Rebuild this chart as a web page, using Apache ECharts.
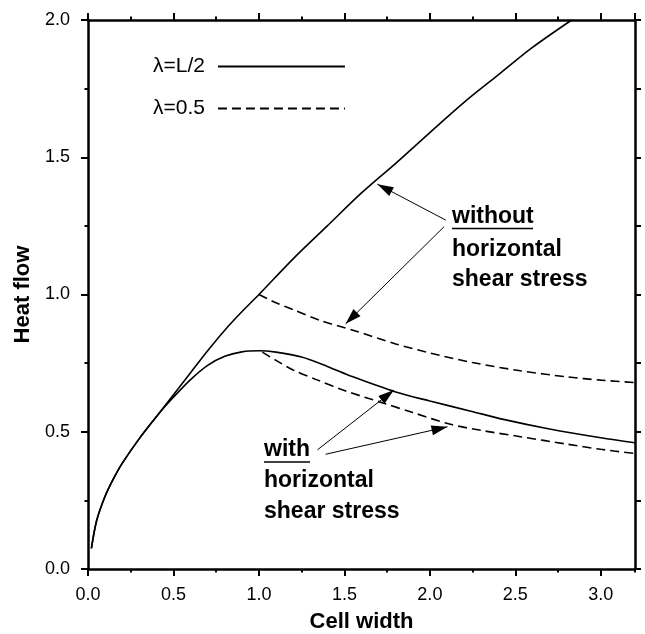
<!DOCTYPE html>
<html>
<head>
<meta charset="utf-8">
<script src="https://cdn.jsdelivr.net/npm/echarts@6/dist/echarts.min.js"></script>
<style>
html,body{margin:0;padding:0;background:#fff;}
#c{width:645px;height:634px;}
</style>
</head>
<body>
<div id="c"></div>
<script>
// ---- data ----
const xRange = [0, 3.2];
const yRange = [0, 2.0];
const seriesNames = ['λ=L/2', 'λ=0.5'];

// λ=L/2, without horizontal shear stress
const withoutL2 = [
  [0.02,0.075],[0.05,0.175],[0.1,0.265],[0.15,0.33],[0.2,0.385],[0.3,0.475],[0.4,0.555],
  [0.5,0.635],[0.6,0.715],[0.7,0.795],[0.8,0.87],[0.9,0.937],[1.0,1.0],[1.2,1.13],
  [1.4,1.25],[1.6,1.37],[1.8,1.478],[2.0,1.59],[2.2,1.70],[2.4,1.80],[2.6,1.90],[2.83,2.0]
];
// λ=L/2, with horizontal shear stress
const withL2 = [
  [0.02,0.075],[0.05,0.175],[0.1,0.265],[0.15,0.33],[0.2,0.385],[0.3,0.475],[0.4,0.555],
  [0.45,0.592],[0.5,0.626],[0.6,0.69],[0.7,0.742],[0.8,0.775],[0.9,0.791],[1.0,0.795],
  [1.1,0.79],[1.25,0.772],[1.4,0.738],[1.55,0.70],[1.8,0.645],[2.0,0.612],[2.24,0.575],
  [2.43,0.545],[2.7,0.51],[3.0,0.478],[3.2,0.46]
];
// λ=0.5, without horizontal shear stress
const without05 = [
  [1.0,1.0],[1.1,0.97],[1.2,0.945],[1.36,0.905],[1.55,0.87],[1.8,0.82],[2.0,0.787],
  [2.25,0.752],[2.53,0.722],[2.8,0.70],[3.0,0.688],[3.2,0.679]
];
// λ=0.5, with horizontal shear stress
const with05 = [
  [1.02,0.79],[1.1,0.76],[1.2,0.725],[1.34,0.689],[1.5,0.65],[1.73,0.604],[1.9,0.57],
  [2.12,0.527],[2.3,0.505],[2.53,0.482],[2.8,0.455],[3.0,0.436],[3.2,0.421]
];

// annotation arrows (data coordinates: start -> tip)
const arrowWithout = [
  [[2.093,1.271],[1.693,1.402]],
  [[2.083,1.247],[1.507,0.893]]
];
const arrowWith = [
  [[1.342,0.434],[1.790,0.652]],
  [[1.390,0.418],[2.103,0.518]]
];

const FONT = 'Liberation Sans';
const black = '#000';

const chart = echarts.init(document.getElementById('c'), null, {renderer:'canvas'});

function xAxisDef(pos, interval, tickLen, showLine, showLabel, extra) {
  return Object.assign({
    type:'value', min:xRange[0], max:xRange[1], interval:interval, position:pos,
    axisLine:{show:showLine, onZero:false, lineStyle:{color:black, width:2.5}},
    axisTick:{show:true, inside:false, length:tickLen, lineStyle:{color:black, width:2}},
    axisLabel:{show:showLabel, margin:17, fontSize:18, fontFamily:FONT, color:black,
      showMaxLabel:false, formatter:v=>v.toFixed(1)},
    splitLine:{show:false}
  }, extra || {});
}
function yAxisDef(pos, interval, tickLen, showLine, showLabel, extra) {
  return Object.assign({
    type:'value', min:yRange[0], max:yRange[1], interval:interval, position:pos,
    axisLine:{show:showLine, onZero:false, lineStyle:{color:black, width:2.5}},
    axisTick:{show:true, inside:false, length:tickLen, lineStyle:{color:black, width:2}},
    axisLabel:{show:showLabel, margin:18, fontSize:18, fontFamily:FONT, color:black,
      formatter:v=>v.toFixed(1)},
    splitLine:{show:false}
  }, extra || {});
}

const lineBase = {type:'line', showSymbol:false, symbol:'none', smooth:0.3,
  xAxisIndex:0, yAxisIndex:0, silent:true};
const solid = {color:black, width:1.6, type:'solid'};
const dashed = {color:black, width:1.6, type:[9,5]};

function arrowData(list){
  return list.map(a => [
    {coord:a[0], symbol:'none'},
    {coord:a[1], symbol:'triangle', symbolSize:[10,16], symbolOffset:[0,8]}
  ]);
}

const option = {
  animation:false,
  backgroundColor:'#fff',
  grid:{left:88, right:10, top:20, bottom:65, containLabel:false, outerBoundsMode:'none'},
  legend:{
    show:true, orient:'vertical', left:148, top:51, align:'right',
    itemWidth:127, itemHeight:20, itemGap:21, selectedMode:false,
    itemStyle:{color:'transparent', borderColor:'transparent', borderWidth:0},
    textStyle:{fontSize:21, fontFamily:FONT, color:black, padding:[0,8,0,0]},
    data:seriesNames
  },
  xAxis:[
    xAxisDef('bottom',0.5,7,true,true,{name:'Cell width', nameLocation:'middle', nameGap:42,
      nameTextStyle:{fontSize:22, fontWeight:'bold', fontFamily:FONT, color:black}}),
    xAxisDef('bottom',0.25,3.5,false,false),
    xAxisDef('top',0.5,7,true,false),
    xAxisDef('top',0.25,3.5,false,false)
  ],
  yAxis:[
    yAxisDef('left',0.5,7,true,true,{name:'Heat flow', nameLocation:'middle', nameGap:53,
      nameTextStyle:{fontSize:22, fontWeight:'bold', fontFamily:FONT, color:black}}),
    yAxisDef('left',0.25,3.5,false,false),
    yAxisDef('right',0.25,6,true,false)
  ],
  series:[
    Object.assign({}, lineBase, {name:seriesNames[0], data:withoutL2, lineStyle:solid, itemStyle:{color:black},
      markLine:{silent:true, animation:false, symbol:['none','triangle'],
        lineStyle:{color:black, width:1, type:'solid'}, itemStyle:{color:black},
        label:{show:false}, emphasis:{disabled:true},
        data:arrowData(arrowWithout.concat(arrowWith))}}),
    Object.assign({}, lineBase, {name:seriesNames[0], data:withL2, lineStyle:solid, itemStyle:{color:black}}),
    Object.assign({}, lineBase, {name:seriesNames[1], data:without05, lineStyle:dashed, itemStyle:{color:black}}),
    Object.assign({}, lineBase, {name:seriesNames[1], data:with05, lineStyle:dashed, itemStyle:{color:black}})
  ],
  graphic:[
    {type:'text', x:452, y:217, silent:true, style:{text:'without', font:'bold 23px "Liberation Sans"', fill:black, align:'left', verticalAlign:'middle'}},
    {type:'line', silent:true, shape:{x1:452,y1:228.5,x2:533,y2:228.5}, style:{stroke:black, lineWidth:1.3}},
    {type:'text', x:452, y:250, silent:true, style:{text:'horizontal', font:'bold 23px "Liberation Sans"', fill:black, align:'left', verticalAlign:'middle'}},
    {type:'text', x:452, y:280, silent:true, style:{text:'shear stress', font:'bold 23px "Liberation Sans"', fill:black, align:'left', verticalAlign:'middle'}},
    {type:'text', x:264, y:450, silent:true, style:{text:'with', font:'bold 23px "Liberation Sans"', fill:black, align:'left', verticalAlign:'middle'}},
    {type:'line', silent:true, shape:{x1:264,y1:462,x2:310,y2:462}, style:{stroke:black, lineWidth:1.3}},
    {type:'text', x:264, y:481, silent:true, style:{text:'horizontal', font:'bold 23px "Liberation Sans"', fill:black, align:'left', verticalAlign:'middle'}},
    {type:'text', x:264, y:512, silent:true, style:{text:'shear stress', font:'bold 23px "Liberation Sans"', fill:black, align:'left', verticalAlign:'middle'}}
  ]
};
chart.setOption(option);
</script>
</body>
</html>
